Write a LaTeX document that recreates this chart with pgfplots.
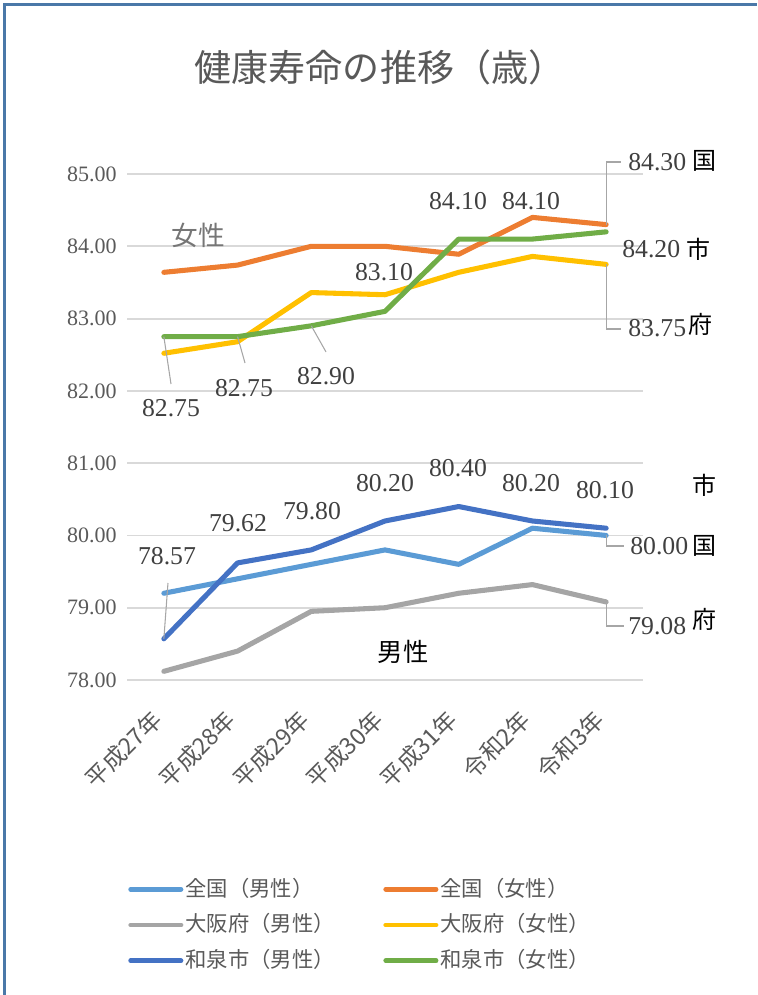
\documentclass[border=0pt]{standalone}
\usepackage{fontspec}
\setmainfont{Liberation Serif}
\newfontfamily\jp{Noto Sans CJK JP}
\usepackage{pgfplots}
\pgfplotsset{compat=1.18}
\definecolor{cA}{HTML}{5B9BD5}
\definecolor{cB}{HTML}{ED7D31}
\definecolor{cC}{HTML}{A5A5A5}
\definecolor{cD}{HTML}{FFC000}
\definecolor{cE}{HTML}{4472C4}
\definecolor{cF}{HTML}{70AD47}
\definecolor{gridc}{HTML}{D9D9D9}
\definecolor{txt}{HTML}{595959}
\definecolor{lab}{HTML}{404040}
\definecolor{ldr}{HTML}{A6A6A6}
\definecolor{frm}{RGB}{74,120,168}
\definecolor{fem}{HTML}{767676}
\newcommand{\numf}{\fontsize{19.3pt}{21pt}\selectfont\color{lab}}
\newcommand{\cjkf}{\jp\fontsize{18pt}{20pt}\selectfont\color{black}}
\begin{document}
\begin{tikzpicture}[x=0.75pt,y=-0.75pt]
\useasboundingbox (0,0) rectangle (757,995);
\draw[frm, line width=2.25pt] (4.5,995) -- (4.5,4.5) -- (757,4.5);
\node[font=\jp\fontsize{27.8pt}{31pt}\selectfont, text=txt] at (380,67) {健康寿命の推移（歳）};
\begin{axis}[
  at={(95.25pt,-510pt)}, anchor=south west,
  scale only axis, width=387pt, height=379.5pt,
  xmin=-0.5, xmax=6.5, ymin=78, ymax=85,
  axis line style={draw=none},
  major tick length=0pt,
  ytick={78,79,...,85},
  ymajorgrids, grid style={gridc, line width=1.4pt},
  /pgf/number format/assume math mode=true,
  yticklabel style={/pgf/number format/fixed, /pgf/number format/fixed zerofill, /pgf/number format/precision=2,
    font=\fontsize{16.5pt}{18pt}\selectfont, text=txt, inner sep=0pt, xshift=-7.5pt},
  xtick={0,...,6},
  xticklabels={平成27年,平成28年,平成29年,平成30年,平成31年,令和2年,令和3年},
  xticklabel style={font=\jp\fontsize{17.5pt}{19pt}\selectfont, text=txt, rotate=45, anchor=north east, inner sep=0pt, xshift=-22pt, yshift=-7pt},
  clip=false,
  every axis plot/.append style={line width=3.8pt, line cap=round, line join=round, no markers},
  legend columns=2,
  legend cell align=left,
  legend style={at={(axis description cs:0.002,-0.386)}, anchor=north west,
    draw=none, fill=none, inner sep=0pt,
    font=\jp\fontsize{16pt}{19pt}\selectfont, text=txt,
    /tikz/every even column/.append style={column sep=35pt},
    row sep=6.3pt,
    nodes={inner sep=1.5pt, text height=14pt, text depth=3.5pt}},
  legend image code/.code={\draw[#1, line width=3.6pt, line cap=round] (1.8pt,0pt) -- (39.5pt,0pt);},
]
\addplot[cA] coordinates {(0,79.2)(1,79.4)(2,79.6)(3,79.8)(4,79.6)(5,80.1)(6,80.0)};
\addlegendentry{全国（男性）}
\addplot[cB] coordinates {(0,83.64)(1,83.74)(2,84.0)(3,84.0)(4,83.89)(5,84.4)(6,84.3)};
\addlegendentry{全国（女性）}
\addplot[cC] coordinates {(0,78.12)(1,78.4)(2,78.95)(3,79.0)(4,79.2)(5,79.32)(6,79.08)};
\addlegendentry{大阪府（男性）}
\addplot[cD] coordinates {(0,82.52)(1,82.68)(2,83.36)(3,83.33)(4,83.64)(5,83.86)(6,83.75)};
\addlegendentry{大阪府（女性）}
\addplot[cE] coordinates {(0,78.57)(1,79.62)(2,79.8)(3,80.2)(4,80.4)(5,80.2)(6,80.1)};
\addlegendentry{和泉市（男性）}
\addplot[cF] coordinates {(0,82.75)(1,82.75)(2,82.9)(3,83.1)(4,84.1)(5,84.1)(6,84.2)};
\addlegendentry{和泉市（女性）}
% leader lines
\draw[ldr, line width=0.8pt] (axis cs:0,82.75) -- (axis cs:0.097,82.095);
\draw[ldr, line width=0.8pt] (axis cs:1,82.75) -- (axis cs:1.101,82.385);
\draw[ldr, line width=0.8pt] (axis cs:2,82.9) -- (axis cs:2.2,82.538);
\draw[ldr, line width=0.8pt] (axis cs:6,84.3) -- (axis cs:6,85.166) -- (axis cs:6.2015,85.166);
\draw[ldr, line width=0.8pt] (axis cs:6,83.75) -- (axis cs:6,82.856) -- (axis cs:6.2015,82.856);
\draw[ldr, line width=0.8pt] (axis cs:0,78.57) -- (axis cs:0.056,79.342);
\draw[ldr, line width=0.8pt] (axis cs:6,80.0) -- (axis cs:6,79.854) -- (axis cs:6.242,79.854);
\draw[ldr, line width=0.8pt] (axis cs:6,79.08) -- (axis cs:6,78.747) -- (axis cs:6.242,78.747);
\end{axis}
% female labels
\node[font=\numf] at (171,408) {82.75};
\node[font=\numf] at (244,388) {82.75};
\node[font=\numf] at (326,376) {82.90};
\node[font=\numf] at (384,272) {83.10};
\node[font=\numf] at (458,201) {84.10};
\node[font=\numf] at (531,201) {84.10};
\node[font=\numf, anchor=west, inner sep=0pt] at (628,162) {84.30};
\node[font=\cjkf] at (704,161) {国};
\node[font=\numf, anchor=west, inner sep=0pt] at (622,249) {84.20};
\node[font=\cjkf] at (698,249) {市};
\node[font=\numf, anchor=west, inner sep=0pt] at (628,328) {83.75};
\node[font=\cjkf] at (700,324) {府};
% male labels
\node[font=\numf] at (167,556) {78.57};
\node[font=\numf] at (238,523) {79.62};
\node[font=\numf] at (312,511) {79.80};
\node[font=\numf] at (385,483) {80.20};
\node[font=\numf] at (458,468) {80.40};
\node[font=\numf] at (531,483) {80.20};
\node[font=\numf] at (605,490) {80.10};
\node[font=\cjkf] at (704,485) {市};
\node[font=\numf, anchor=west, inner sep=0pt] at (630,546) {80.00};
\node[font=\cjkf] at (704,546) {国};
\node[font=\numf, anchor=west, inner sep=0pt] at (628,626) {79.08};
\node[font=\cjkf] at (704,619) {府};
\node[font=\jp\fontsize{20pt}{22pt}\selectfont, text=fem] at (198,235) {女性};
\node[font=\jp\fontsize{19pt}{21pt}\selectfont, text=black] at (403,652) {男性};
\end{tikzpicture}
\end{document}
